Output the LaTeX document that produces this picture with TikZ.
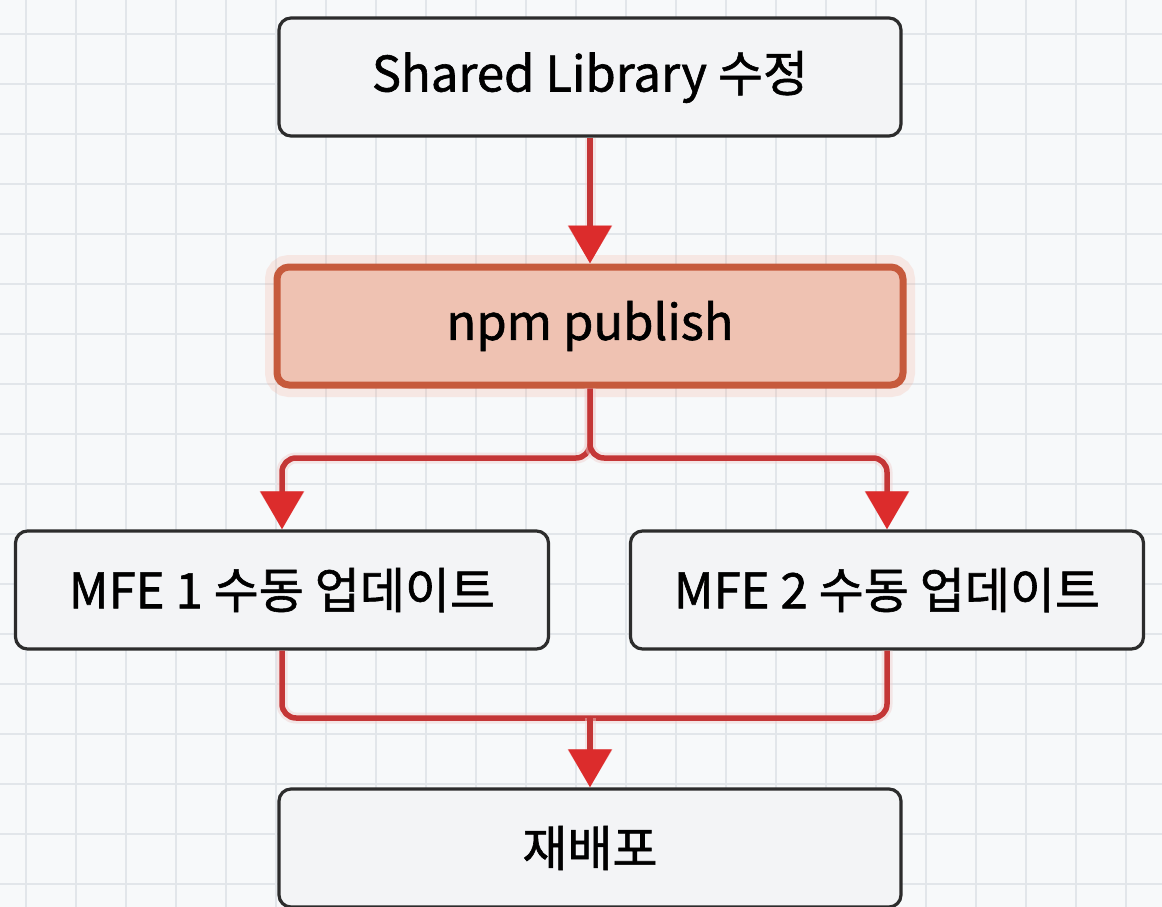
\documentclass[tikz,border=0pt]{standalone}
\usepackage{fontspec}
\setmainfont{Noto Sans CJK KR}[FakeBold=1.2]
\usetikzlibrary{arrows.meta}
\definecolor{bgc}{HTML}{F7F9FA}
\definecolor{gridc}{HTML}{E2E6EA}
\definecolor{boxfill}{HTML}{F3F4F6}
\definecolor{boxline}{HTML}{2C2C2C}
\definecolor{pubfill}{HTML}{EFC2B2}
\definecolor{publine}{HTML}{C65A3C}
\definecolor{linkc}{HTML}{C43636}
\definecolor{tipc}{HTML}{DC2C2C}
\definecolor{glowc}{HTML}{F4A08A}
\tikzset{
  box/.style={draw=boxline, fill=boxfill, line width=3.2pt, rounded corners=12pt,
    font=\fontsize{49}{56}\selectfont, text=black, inner sep=0pt,
    minimum height=118pt},
  pubbox/.style={box, draw=publine, fill=pubfill, line width=7pt,
    preaction={draw=glowc, draw opacity=0.2, line width=24pt}},
  link/.style={draw=linkc, line width=5.5pt, rounded corners=14pt,
    preaction={draw=linkc!25, line width=11pt, draw opacity=0.45}},
  arr/.style={link, -{Triangle[length=38pt, width=42pt, fill=tipc, color=tipc]}},
}
\begin{document}
\begin{tikzpicture}[x=1pt, y=-1pt]
\useasboundingbox (0,0) rectangle (1162,907);
\fill[bgc] (0,0) rectangle (1162,907);
\foreach \gx in {26,76,...,1162} { \draw[gridc, line width=1.5pt] (\gx,0) -- (\gx,907); }
\foreach \gy in {34,84,...,907} { \draw[gridc, line width=1.5pt] (0,\gy) -- (1162,\gy); }

\node[box, minimum width=622pt] (top) at (590,77) {Shared Library 수정};
\node[pubbox, minimum width=626pt] (pub) at (590,326) {npm publish};
\node[box, minimum width=533pt] (m1) at (282,590) {MFE 1 수동 업데이트};
\node[box, minimum width=513pt] (m2) at (887,590) {MFE 2 수동 업데이트};
\node[box, minimum width=622pt] (bot) at (590,848) {재배포};

\coordinate (split) at (590,458);
\coordinate (merge) at (590,718);

\draw[arr] (top.south) -- (pub.north);
\draw[arr] (pub.south) -- (split) -| (m1.north);
\draw[arr] (pub.south) -- (split) -| (m2.north);
\draw[link] (m1.south) |- (merge);
\draw[link] (m2.south) |- (merge);
\draw[arr] (merge) -- (bot.north);
\end{tikzpicture}
\end{document}
